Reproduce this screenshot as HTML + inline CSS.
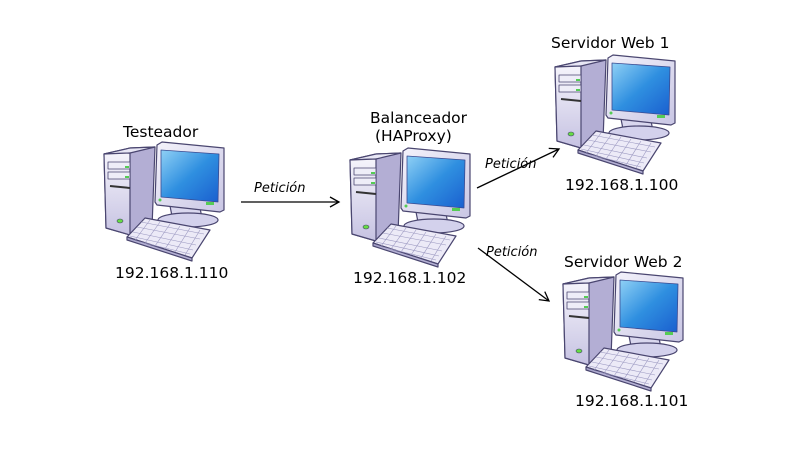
<!DOCTYPE html>
<html><head><style>
body{margin:0;background:#fff;width:803px;height:447px;overflow:hidden;font-family:"DejaVu Sans","Liberation Sans",sans-serif}
</style></head><body>
<svg width="803" height="447" viewBox="0 0 803 447" xmlns="http://www.w3.org/2000/svg">
<defs>
<linearGradient id="scr" x1="0" y1="0" x2="1" y2="1"><stop offset="0" stop-color="#8fd0f5"/><stop offset="0.5" stop-color="#2f8fe0"/><stop offset="1" stop-color="#1a5fcf"/></linearGradient>
<linearGradient id="frm" x1="0" y1="0" x2="1" y2="1"><stop offset="0" stop-color="#f4f3fb"/><stop offset="1" stop-color="#c9c6e4"/></linearGradient>
<linearGradient id="twr" x1="0" y1="0" x2="0" y2="1"><stop offset="0" stop-color="#f5f4fb"/><stop offset="1" stop-color="#c6c2e2"/></linearGradient>
<g id="pc" stroke="#4a4670" stroke-width="1.2" stroke-linejoin="round">
  <polygon points="4,14 30,8 55,7 52,88 30,95 6,88" fill="#b3aed4"/>
  <polygon points="4,14 30,8 55,7 30,13" fill="#e8e7f5"/>
  <polygon points="4,14 30,13 30,95 6,88" fill="url(#twr)"/>
  <rect x="8" y="22" width="22" height="7" fill="#eeedf8" stroke-width="0.8"/>
  <rect x="8" y="32" width="22" height="7" fill="#eeedf8" stroke-width="0.8"/>
  <rect x="25" y="26" width="4" height="2" fill="#5c5" stroke="none"/>
  <rect x="25" y="36" width="4" height="2" fill="#5c5" stroke="none"/>
  <path d="M10,46 L30,48" stroke="#333" stroke-width="2"/>
  <ellipse cx="20" cy="81" rx="3" ry="2" fill="#6d4" stroke-width="0.6"/>
  <polygon points="70,66 100,68 102,78 72,76" fill="#d9d7ee"/>
  <ellipse cx="88" cy="80" rx="30" ry="7" fill="#d3d1ec"/>
  <polygon points="57,5 62,2 124,8 124,70 120,72 57,65 55,62" fill="url(#frm)"/>
  <polygon points="61,10 119,14 118,62 61,57" fill="url(#scr)" stroke="#3a4a90" stroke-width="0.8"/>
  <rect x="106" y="62" width="8" height="3" fill="#5c5" stroke="none"/>
  <circle cx="60" cy="60" r="1.5" fill="#5c5" stroke="none"/>
  <polygon points="27,97 45,78 110,90 92,118" fill="#eceaf7"/>
  <polygon points="27,97 92,118 92,121 27,100" fill="#b4b0d4"/>
  <g stroke="#9a97c0" stroke-width="0.6">
    <path d="M37,87 L100,99 M33,92 L96,105 M41,82 L104,94 M30,96 L93,110 M28,99 L90,114"/>
    <path d="M50,80 L35,100 M60,82 L45,103 M70,84 L55,106 M80,86 L65,109 M90,88 L75,112 M100,90 L85,115"/>
  </g>
</g>
<marker id="ah" markerWidth="12" markerHeight="12" refX="10" refY="6" orient="auto" markerUnits="userSpaceOnUse"><path d="M1,1 L10,6 L1,11" fill="none" stroke="#000" stroke-width="1.3"/></marker>
</defs>
<use href="#pc" x="100" y="140"/>
<use href="#pc" x="346" y="146"/>
<use href="#pc" x="551" y="53"/>
<use href="#pc" x="559" y="270"/>
<g stroke="#000" stroke-width="1.3" fill="none">
<line x1="241" y1="202" x2="339" y2="202" marker-end="url(#ah)"/>
<line x1="477" y1="188" x2="559" y2="149" marker-end="url(#ah)"/>
<line x1="478" y1="248" x2="549" y2="301" marker-end="url(#ah)"/>
</g>
<g font-size="15.5" fill="#000">
<text x="123" y="137">Testeador</text>
<text x="115" y="278">192.168.1.110</text>
<text x="370" y="123">Balanceador</text>
<text x="375" y="141">(HAProxy)</text>
<text x="353" y="283">192.168.1.102</text>
<text x="551" y="48">Servidor Web 1</text>
<text x="565" y="190">192.168.1.100</text>
<text x="564" y="267">Servidor Web 2</text>
<text x="575" y="406">192.168.1.101</text>
</g>
<g font-size="13" font-style="italic" fill="#000">
<text x="254" y="192">Petición</text>
<text x="485" y="168">Petición</text>
<text x="486" y="256">Petición</text>
</g>
</svg>
</body></html>
